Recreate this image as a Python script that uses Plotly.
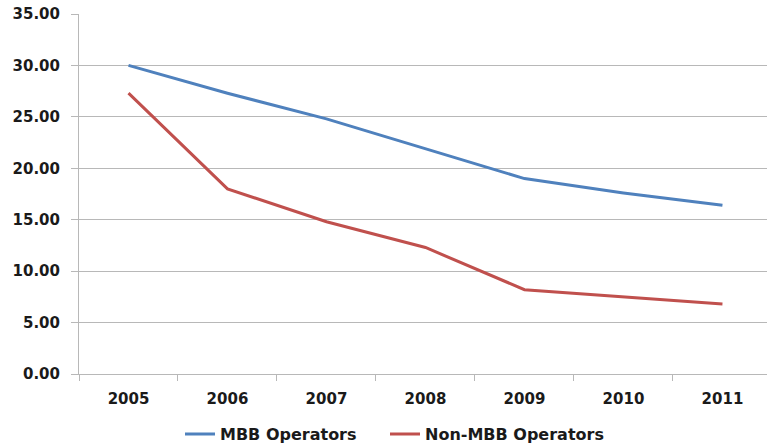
import plotly.graph_objects as go

years = ["2005", "2006", "2007", "2008", "2009", "2010", "2011"]
mbb_operators = [30.0, 27.3, 24.8, 21.9, 19.0, 17.6, 16.4]
non_mbb_operators = [27.3, 18.0, 14.8, 12.3, 8.2, 7.5, 6.8]
y_ticks = [0, 5, 10, 15, 20, 25, 30, 35]

FONT = "DejaVu Sans"
GRID = "#b8b8b8"

fig = go.Figure()
fig.add_trace(go.Scatter(x=years, y=mbb_operators, mode="lines", name="MBB Operators",
                         line=dict(color="#4F81BD", width=3), legend="legend"))
fig.add_trace(go.Scatter(x=years, y=non_mbb_operators, mode="lines", name="Non-MBB Operators",
                         line=dict(color="#C0504D", width=3), legend="legend2"))


def legend_box(left_px):
    return dict(orientation="h", xref="container", yref="container",
                x=left_px / 767, xanchor="left", y=0.02, yanchor="middle",
                font=dict(family=FONT, size=16, weight="bold"),
                itemwidth=30, bgcolor="rgba(0,0,0,0)")


fig.update_layout(
    width=767, height=443,
    margin=dict(l=79, r=0, t=14, b=69),
    paper_bgcolor="white", plot_bgcolor="white",
    font=dict(family=FONT, size=15, color="#1a1a1a"),
    showlegend=True,
    legend=legend_box(180),
    legend2=legend_box(385),
    xaxis=dict(type="category", range=[-0.5, 6.45], tickson="boundaries",
               ticks="outside", ticklen=6, tickcolor=GRID, showgrid=False,
               showline=True, linecolor=GRID, linewidth=1,
               tickfont=dict(family=FONT, size=15, weight="bold"),
               ticklabelstandoff=11),
    yaxis=dict(range=[0, 35], tickvals=y_ticks,
               ticktext=[f"{v:.2f}" for v in y_ticks],
               ticks="outside", ticklen=7, tickcolor=GRID,
               showgrid=True, gridcolor=GRID, gridwidth=1,
               showline=True, linecolor=GRID, linewidth=1, zeroline=False,
               tickfont=dict(family=FONT, size=15, weight="bold"),
               ticklabelstandoff=8),
)

fig.write_html("out.html")
